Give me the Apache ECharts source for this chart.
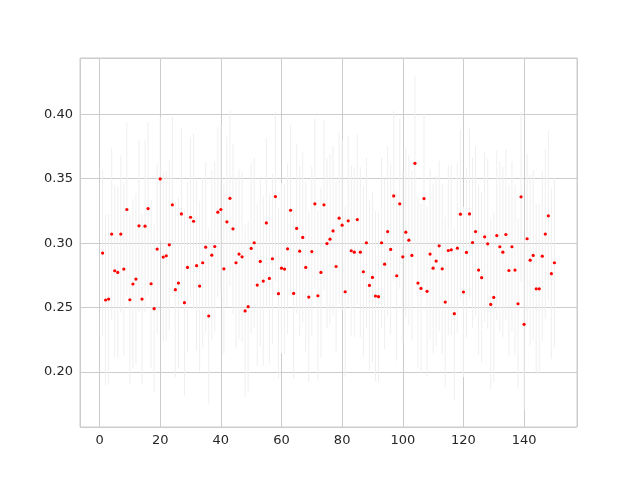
<!DOCTYPE html>
<html>
<head>
<meta charset="utf-8">
<script src="https://cdn.jsdelivr.net/npm/echarts@6/dist/echarts.min.js"></script>
<style>
html,body{margin:0;padding:0;background:#fff;}
#chart{width:640px;height:480px;}
</style>
</head>
<body>
<div id="chart"></div>
<script>
// Measured values (x = 1..150)
var values = [
0.2923,0.2559,0.2566,0.3070,0.2786,0.2773,0.3070,0.2799,0.3261,0.2561,
0.2683,0.2721,0.3134,0.2566,0.3132,0.3268,0.2685,0.2492,0.2954,0.3498,
0.2892,0.2902,0.2987,0.3297,0.2639,0.2690,0.3227,0.2538,0.2812,0.3201,
0.3170,0.2825,0.2667,0.2848,0.2969,0.2435,0.2907,0.2974,0.3240,0.3261,
0.2801,0.3165,0.3348,0.3111,0.2848,0.2915,0.2894,0.2474,0.2507,0.2959,
0.3003,0.2675,0.2858,0.2706,0.3157,0.2726,0.2879,0.3361,0.2608,0.2806,
0.2799,0.2956,0.3255,0.2610,0.3114,0.2938,0.3044,0.2812,0.2582,0.2935,
0.3305,0.2592,0.2773,0.3297,0.2997,0.3031,0.3095,0.2819,0.3194,0.3139,
0.2623,0.3173,0.2941,0.2930,0.3183,0.2930,0.2778,0.3003,0.2672,0.2734,
0.2590,0.2585,0.3003,0.2837,0.3090,0.2951,0.3366,0.2747,0.3305,0.2894,
0.3085,0.3023,0.2905,0.3619,0.2690,0.2649,0.3346,0.2626,0.2915,0.2806,
0.2861,0.2979,0.2801,0.2543,0.2943,0.2948,0.2453,0.2961,0.3225,0.2621,
0.2928,0.3227,0.3005,0.3090,0.2791,0.2732,0.3049,0.2995,0.2525,0.2579,
0.3059,0.2972,0.2930,0.3067,0.2788,0.2972,0.2791,0.2530,0.3359,0.2370,
0.3034,0.2868,0.2905,0.2646,0.2646,0.2899,0.3070,0.3212,0.2763,0.2848
];
// Error bar half-lengths (estimated)
var errors = [
0.0645,0.0660,0.0660,0.0665,0.0665,0.0665,0.0610,0.0670,0.0675,0.0660,
0.0655,0.0665,0.0665,0.0660,0.0665,0.0670,0.0650,0.0650,0.0660,0.0480,
0.0660,0.0660,0.0660,0.0685,0.0680,0.0665,0.0665,0.0720,0.0660,0.0620,
0.0680,0.0660,0.0660,0.0660,0.0660,0.0680,0.0660,0.0660,0.0660,0.0660,
0.0660,0.0660,0.0680,0.0660,0.0660,0.0660,0.0660,0.0670,0.0660,0.0660,
0.0660,0.0630,0.0660,0.0660,0.0660,0.0660,0.0660,0.0660,0.0660,0.0660,
0.0660,0.0660,0.0660,0.0660,0.0660,0.0660,0.0660,0.0660,0.0660,0.0660,
0.0660,0.0660,0.0660,0.0660,0.0660,0.0660,0.0660,0.0660,0.0660,0.0660,
0.0660,0.0660,0.0660,0.0660,0.0660,0.0660,0.0660,0.0660,0.0660,0.0660,
0.0660,0.0660,0.0660,0.0660,0.0660,0.0660,0.0660,0.0660,0.0660,0.0660,
0.0660,0.0660,0.0660,0.0680,0.0660,0.0660,0.0660,0.0660,0.0660,0.0660,
0.0660,0.0660,0.0660,0.0660,0.0660,0.0660,0.0670,0.0660,0.0660,0.0660,
0.0660,0.0660,0.0660,0.0660,0.0660,0.0660,0.0660,0.0660,0.0660,0.0660,
0.0660,0.0660,0.0660,0.0660,0.0660,0.0660,0.0660,0.0660,0.0660,0.0660,
0.0660,0.0660,0.0660,0.0660,0.0660,0.0660,0.0660,0.0660,0.0660,0.0660
];
var xTickLabels = ['0','20','40','60','80','100','120','140'];
var yTickLabels = ['0.20','0.25','0.30','0.35','0.40'];

var points = values.map(function(v, i){ return [i + 1, v]; });
var bars = values.map(function(v, i){ return [i + 1, v - errors[i], v + errors[i]]; });

var chart = echarts.init(document.getElementById('chart'), null, {renderer:'canvas'});
var gridColor = '#cccccc';
chart.setOption({
  animation: false,
  backgroundColor: '#ffffff',
  grid: {left: 80, right: 63, top: 58, bottom: 53, show: true, borderColor: gridColor, borderWidth: 1, backgroundColor: 'transparent'},
  xAxis: {
    type: 'value', min: -6.45, max: 157.45, splitNumber: 8,
    axisLine: {show: false},
    axisTick: {show: false},
    splitLine: {show: true, lineStyle: {color: gridColor, width: 1}},
    axisLabel: {
      showMinLabel: false, showMaxLabel: false, margin: 7,
      color: '#262626', fontFamily: 'DejaVu Sans', fontSize: 13,
      formatter: function(v){ var s = String(Math.round(v)); return xTickLabels.indexOf(s) >= 0 ? s : ''; }
    }
  },
  yAxis: {
    type: 'value', min: 0.1574, max: 0.4436, splitNumber: 6,
    axisLine: {show: false},
    axisTick: {show: false},
    splitLine: {show: true, lineStyle: {color: gridColor, width: 1}},
    axisLabel: {
      showMinLabel: false, showMaxLabel: false, margin: 7,
      color: '#262626', fontFamily: 'DejaVu Sans', fontSize: 13,
      formatter: function(v){ var s = v.toFixed(2); return yTickLabels.indexOf(s) >= 0 ? s : ''; }
    }
  },
  series: [
    {
      type: 'custom',
      data: bars,
      encode: {x: 0, y: [1, 2]},
      z: 1,
      renderItem: function(params, api){
        var x = api.value(0);
        var p1 = api.coord([x, api.value(1)]);
        var p2 = api.coord([x, api.value(2)]);
        return {type: 'line', shape: {x1: p1[0], y1: p1[1], x2: p2[0], y2: p2[1]},
                style: {stroke: '#efefef', lineWidth: 1}};
      }
    },
    {
      type: 'scatter',
      data: points,
      symbol: 'circle',
      symbolSize: 3.2,
      itemStyle: {color: '#ff0000', opacity: 1},
      z: 3
    }
  ]
});
</script>
</body>
</html>
